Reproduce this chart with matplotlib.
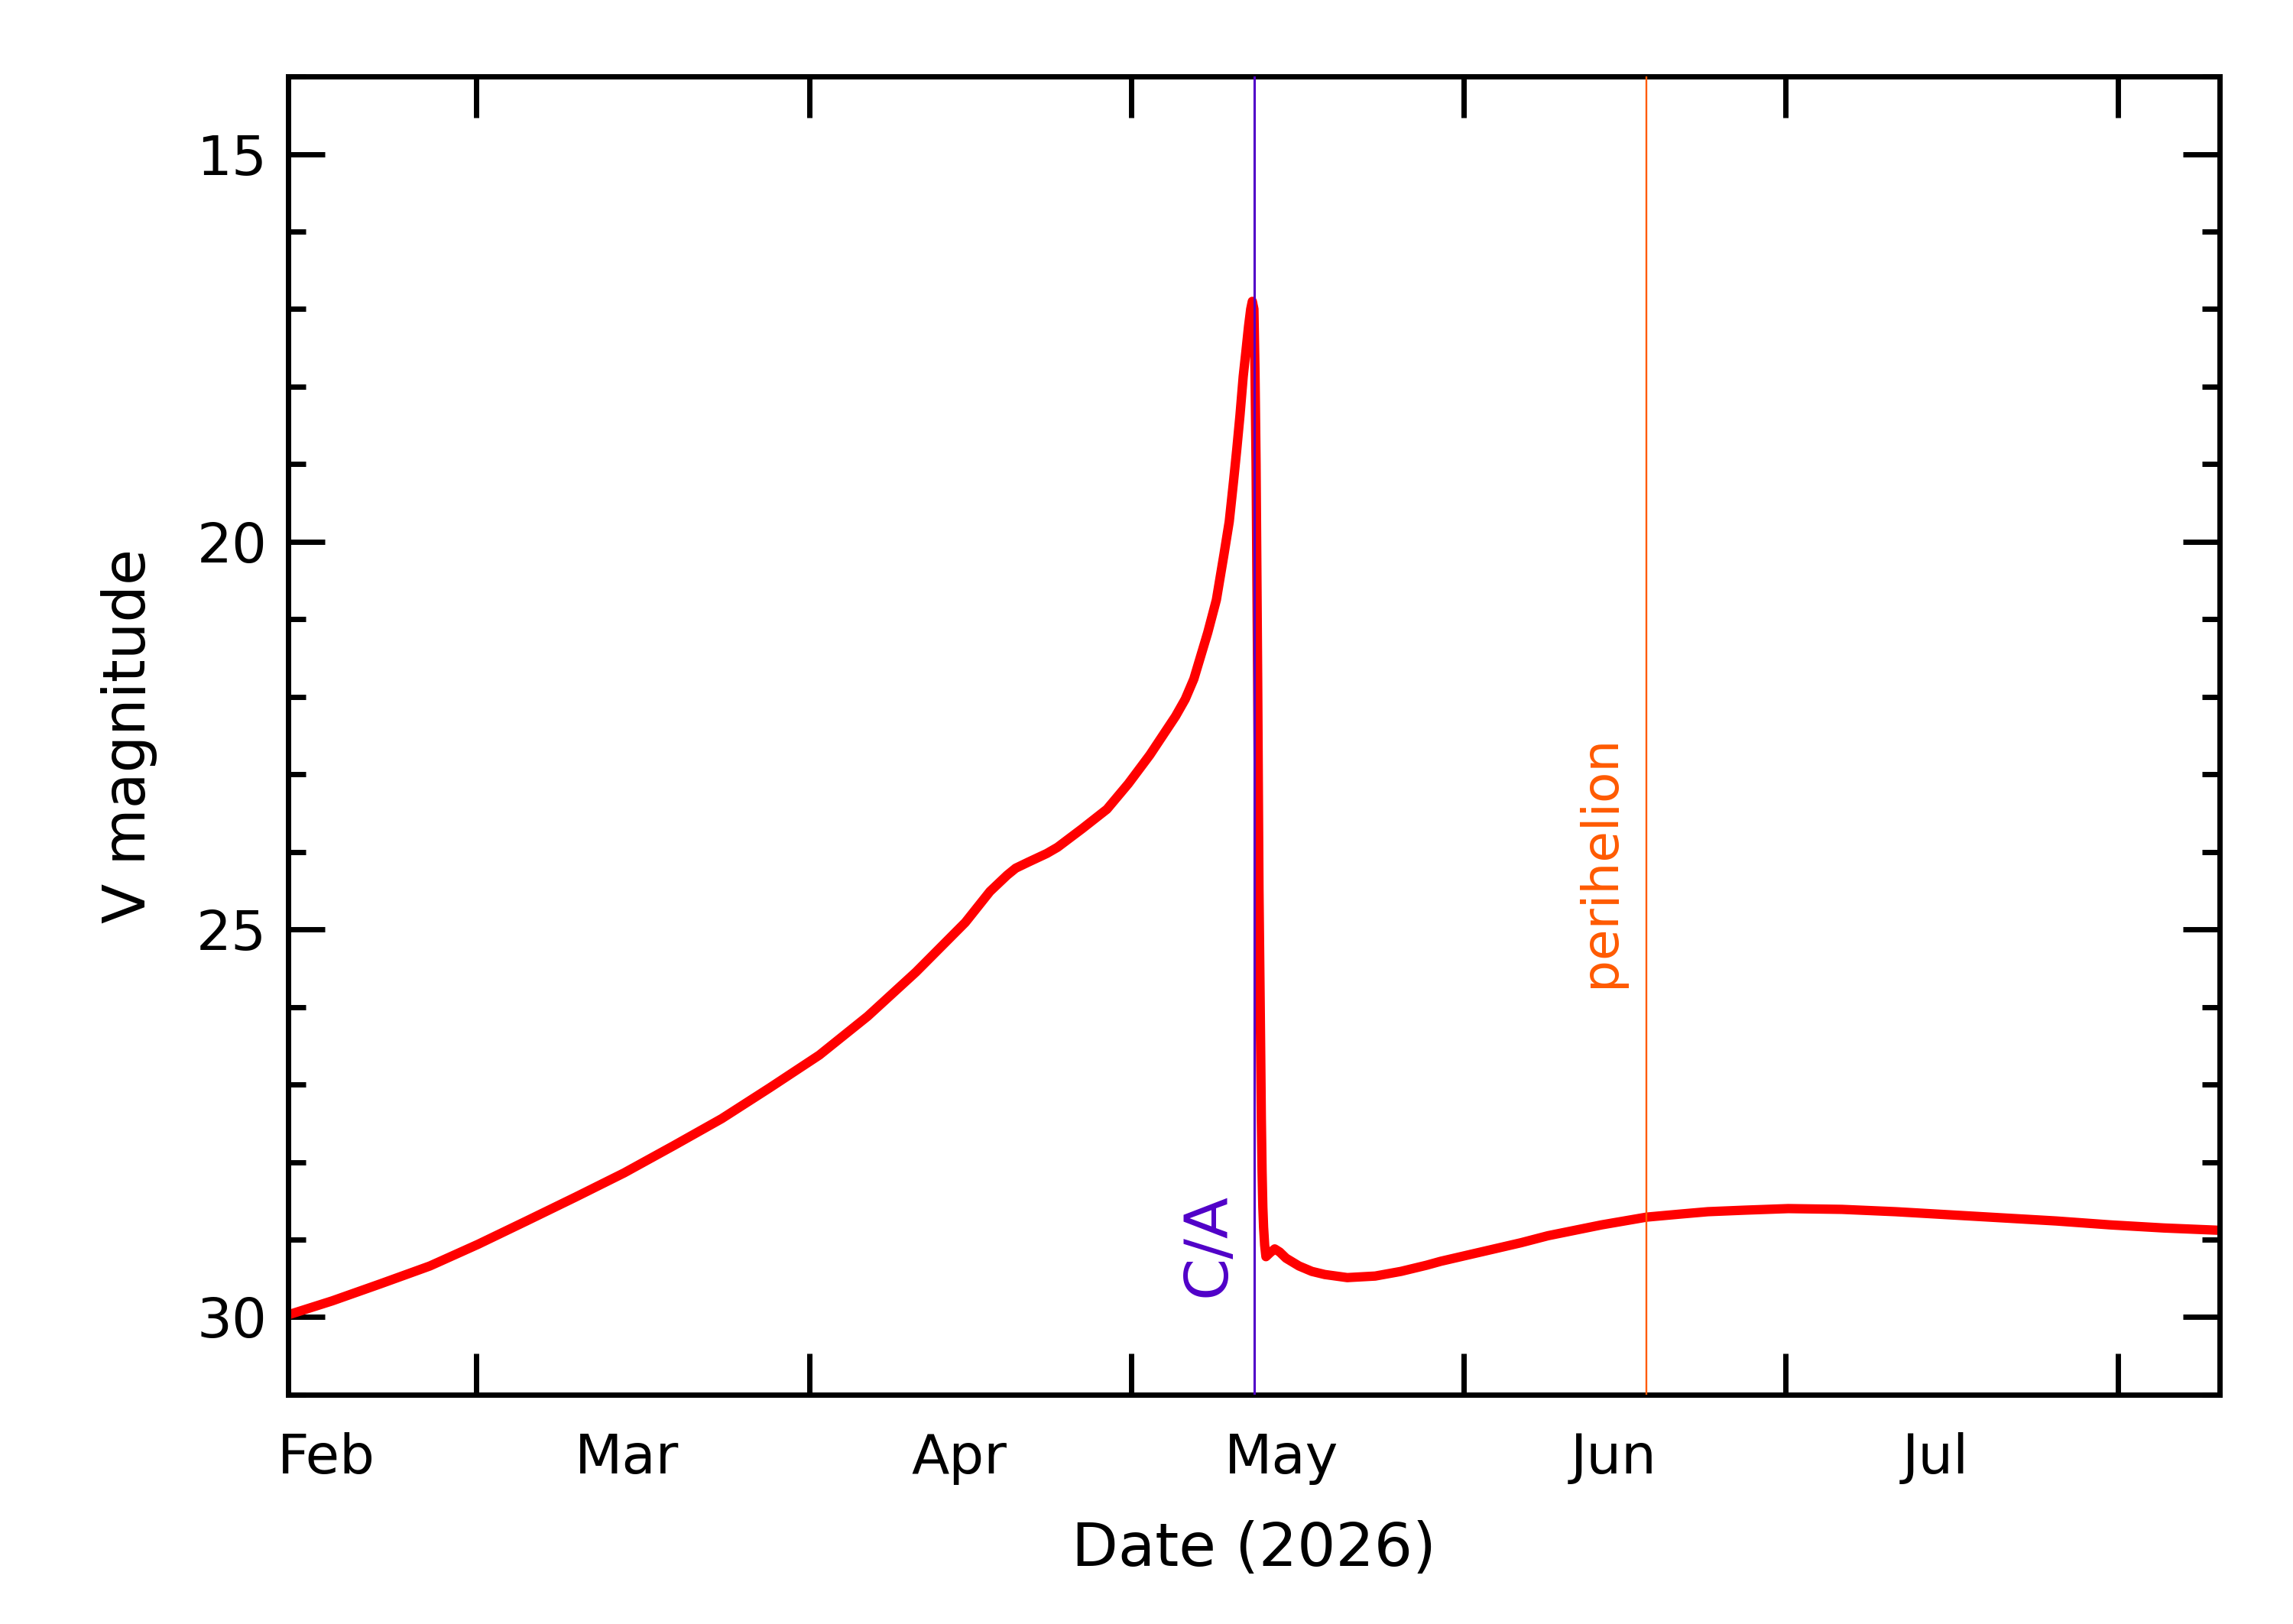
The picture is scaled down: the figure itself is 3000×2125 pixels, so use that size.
import datetime as dt
import matplotlib
matplotlib.use("Agg")
import matplotlib.pyplot as plt
import matplotlib.dates as mdates
from matplotlib.ticker import MultipleLocator, NullFormatter
from matplotlib.transforms import offset_copy

plt.rcParams['font.family'] = ['DejaVu Sans']

# close approach and perihelion dates
ca_date = dt.datetime(2026, 5, 12, 10, 48)
perihelion_date = dt.datetime(2026, 6, 18, 1, 0)
half_span_days = 90

# V magnitude, days relative to close approach
days_from_ca = [-90.0, -85.9, -81.4, -76.8, -72.3, -67.8, -63.2, -58.7, -54.1,
                -49.6, -45.1, -40.5, -36.0, -31.5, -26.9, -24.6, -23.0, -22.2,
                -21.0, -19.3, -18.3, -16.0, -13.7, -11.7, -9.7, -8.5, -7.3,
                -6.4, -5.6, -4.3, -3.5, -2.8, -2.3, -1.9, -1.6, -1.3, -1.0,
                -0.75, -0.5, -0.3, -0.15, 0.0, 0.1, 0.2, 0.35, 0.47,
                0.62, 0.69, 0.76, 0.83, 0.9, 1.0, 1.12, 1.5, 1.94, 2.4, 3.0,
                4.2, 5.4, 6.6, 8.7, 11.3, 13.7, 16.1, 17.4, 19.9, 22.4, 24.9,
                27.4, 29.9, 32.4, 36.6, 39.8, 42.3, 45.8, 49.8, 54.8, 59.8,
                64.8, 69.8, 74.8, 79.8, 84.8, 90.0]
vmag = [29.97, 29.79, 29.57, 29.34, 29.06, 28.76, 28.45, 28.14, 27.79,
        27.44, 27.04, 26.62, 26.12, 25.55, 24.91, 24.51, 24.30, 24.21,
        24.13, 24.02, 23.94, 23.70, 23.45, 23.12, 22.75, 22.50, 22.25,
        22.03, 21.77, 21.17, 20.75, 20.17, 19.74, 19.22, 18.81, 18.37, 17.87,
        17.55, 17.22, 17.00, 16.90, 17.00, 17.80, 19.00, 21.80, 24.48,
        26.45, 27.43, 28.12, 28.58, 28.84, 29.07, 29.22, 29.17, 29.12, 29.16, 29.24,
        29.34, 29.41, 29.45, 29.49, 29.47, 29.41, 29.33, 29.28, 29.20, 29.12, 29.04,
        28.95, 28.88, 28.81, 28.71, 28.67, 28.64, 28.62, 28.60, 28.61, 28.64,
        28.68, 28.72, 28.76, 28.81, 28.85, 28.88]

ca_num = mdates.date2num(ca_date)
x_vals = [ca_num + d for d in days_from_ca]

fig = plt.figure(figsize=(15, 10.625), dpi=200)
ax = fig.add_axes([0.1257, 0.1412, 0.8423, 0.8117])

ax.plot(x_vals, vmag, color='#ff0000', linewidth=4.4, zorder=2,
        solid_joinstyle='round')

ax.axvline(ca_num, color='#5000c8', linewidth=1.1, zorder=3)
ax.axvline(mdates.date2num(perihelion_date), color='#ff5a00', linewidth=0.85, zorder=3)

trans_ca = offset_copy(ax.transData, fig=fig, x=-13.7, y=0, units='points')
ax.text(ca_num, 29.74, 'C/A', transform=trans_ca, rotation=90,
        rotation_mode='anchor', ha='left', va='baseline',
        color='#5000c8', fontsize=28.5)
trans_p = offset_copy(ax.transData, fig=fig, x=-15.1, y=0, units='points')
ax.text(mdates.date2num(perihelion_date), 25.75, 'perihelion', transform=trans_p,
        rotation=90, rotation_mode='anchor', ha='left', va='baseline',
        color='#ff5a00', fontsize=23.8)

ax.set_xlim(ca_num - half_span_days, ca_num + half_span_days)
ax.set_ylim(31, 14)

# month boundaries as ticks, month names centred mid-month
ax.xaxis.set_major_locator(mdates.MonthLocator(bymonthday=1))
ax.xaxis.set_major_formatter(NullFormatter())
ax.xaxis.set_minor_locator(mdates.MonthLocator(bymonthday=15))
ax.xaxis.set_minor_formatter(mdates.DateFormatter('%b'))
ax.yaxis.set_major_locator(MultipleLocator(5))
ax.yaxis.set_minor_locator(MultipleLocator(1))

ax.tick_params(axis='x', which='major', direction='in', length=19.4, width=2.5,
               top=True, bottom=True)
ax.tick_params(axis='x', which='minor', length=0, labelsize=26, pad=17.8,
               top=False)
ax.tick_params(axis='y', which='major', direction='in', length=17.3, width=2.5,
               left=True, right=True, labelsize=26, pad=10)
ax.tick_params(axis='y', which='minor', direction='in', length=8.3, width=2.5,
               left=True, right=True)

for sp in ax.spines.values():
    sp.set_linewidth(2.5)

ax.set_xlabel('Date (2026)', fontsize=28.5, labelpad=16.5)
ax.set_ylabel('V magnitude', fontsize=27.5, labelpad=18.5)

fig.savefig('out.png', dpi=200)
